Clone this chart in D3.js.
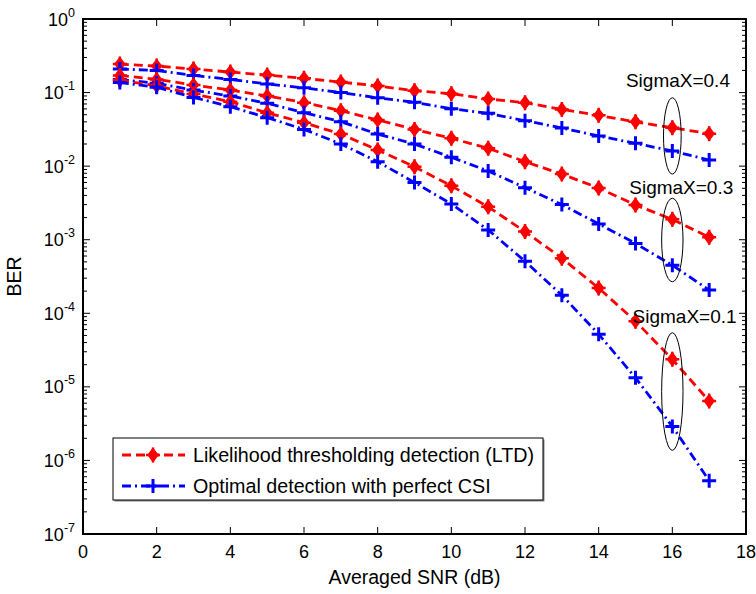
<!DOCTYPE html>
<html>
<head>
<meta charset="utf-8">
<script src="https://cdn.jsdelivr.net/npm/d3@7/dist/d3.min.js"></script>
<style>
  body { margin: 0; background: #fff; }
  text { font-family: "Liberation Sans", Arial, sans-serif; fill: #000; }
</style>
</head>
<body>
<div id="chart"></div>
<script>
const width = 756;
const height = 594;
const margin = {top: 19, right: 10, bottom: 60, left: 83};

// data
const snr = [1, 2, 3, 4, 5, 6, 7, 8, 9, 10, 11, 12, 13, 14, 15, 16, 17];
const ltd04 = [0.244, 0.229, 0.209, 0.19, 0.173, 0.156, 0.139, 0.123, 0.106, 0.0966, 0.0818, 0.073, 0.059, 0.049, 0.040, 0.0333, 0.0276];
const opt04 = [0.209, 0.2, 0.171, 0.151, 0.131, 0.116, 0.1, 0.085, 0.0737, 0.0604, 0.0522, 0.0415, 0.033, 0.0257, 0.0204, 0.0161, 0.0121];
const ltd03 = [0.171, 0.151, 0.127, 0.108, 0.09, 0.073, 0.0567, 0.0424, 0.0316, 0.0239, 0.0175, 0.0115, 0.0078, 0.00505, 0.00296, 0.00189, 0.00108];
const opt03 = [0.15, 0.134, 0.108, 0.0898, 0.0714, 0.0533, 0.0402, 0.0273, 0.02, 0.0132, 0.0086, 0.0051, 0.003, 0.00164, 0.00089, 0.00045, 0.000207];
const ltd01 = [0.148, 0.123, 0.0957, 0.075, 0.053, 0.039, 0.0273, 0.0166, 0.0098, 0.0054, 0.0028, 0.00129, 0.00056, 0.00022, 0.000078, 0.0000237, 0.0000064];
const opt01 = [0.137, 0.118, 0.086, 0.0643, 0.0456, 0.0316, 0.02, 0.0115, 0.006, 0.00306, 0.00136, 0.00051, 0.000176, 0.000052, 0.0000133, 0.0000029, 0.00000053];

const xTicks = [0, 2, 4, 6, 8, 10, 12, 14, 16, 18];
const yExponents = [0, -1, -2, -3, -4, -5, -6, -7];
const legendLabels = ["Likelihood thresholding detection (LTD)", "Optimal detection with perfect CSI"];

// ellipse + text annotations (data space)
const ellipseX = [16, 16, 16];
const ellipseTop = [0.085, 0.00366, 0.0000545];
const ellipseBottom = [0.0078, 0.000268, 0.00000137];
const ellipseHalfW = [0.24, 0.29, 0.29];
const noteText = ["SigmaX=0.4", "SigmaX=0.3", "SigmaX=0.1"];
const noteX = [14.74, 14.83, 14.92];
const noteY = [0.12, 0.00414, 0.0000731];

const innerW = width - margin.left - margin.right;
const innerH = height - margin.top - margin.bottom;

let svg = d3.select("#chart").append("svg")
    .attr("width", width)
    .attr("height", height);

let g = svg.append("g").attr("transform", "translate(" + margin.left + "," + margin.top + ")");

let x = d3.scaleLinear().domain([0, 18]).range([0, innerW]);
let y = d3.scaleLog().domain([1e-7, 1]).range([innerH, 0]);

// ticks (inward, MATLAB style)
let minorVals = [];
for (let e = -7; e < 0; e++) {
    for (let m = 2; m <= 9; m++) minorVals.push(m * Math.pow(10, e));
}
let majorVals = yExponents.map(function(e) { return Math.pow(10, e); });

function yTicks(sel, x0, dir) {
    sel.selectAll(null).data(minorVals).enter().append("line")
        .attr("x1", x0).attr("x2", x0 + dir * 4)
        .attr("y1", function(d) { return y(d); }).attr("y2", function(d) { return y(d); })
        .attr("stroke", "#000").attr("stroke-width", 1);
    sel.selectAll(null).data(majorVals).enter().append("line")
        .attr("x1", x0).attr("x2", x0 + dir * 7)
        .attr("y1", function(d) { return y(d); }).attr("y2", function(d) { return y(d); })
        .attr("stroke", "#000").attr("stroke-width", 1);
}
let tickG = g.append("g");
yTicks(tickG, 0, 1);
yTicks(tickG, innerW, -1);

tickG.selectAll(null).data(xTicks).enter().append("line")
    .attr("x1", function(d) { return x(d); }).attr("x2", function(d) { return x(d); })
    .attr("y1", innerH).attr("y2", innerH - 7)
    .attr("stroke", "#000").attr("stroke-width", 1);
tickG.selectAll(null).data(xTicks).enter().append("line")
    .attr("x1", function(d) { return x(d); }).attr("x2", function(d) { return x(d); })
    .attr("y1", 0).attr("y2", 7)
    .attr("stroke", "#000").attr("stroke-width", 1);

// tick labels
g.selectAll(".xl").data(xTicks).enter().append("text")
    .attr("class", "xl")
    .attr("x", function(d) { return x(d); })
    .attr("y", innerH + 24)
    .attr("text-anchor", "middle")
    .style("font-size", "18px")
    .text(function(d) { return d; });

let yl = g.selectAll(".yl").data(yExponents).enter().append("text")
    .attr("class", "yl")
    .attr("x", -8)
    .attr("y", function(d) { return y(Math.pow(10, d)) + 6.5; })
    .attr("text-anchor", "end")
    .style("font-size", "18px");
yl.append("tspan").text("10");
yl.append("tspan")
    .attr("dy", -9)
    .style("font-size", "12.5px")
    .text(function(d) { return d === 0 ? "0" : "-" + Math.abs(d); });

// axis titles
svg.append("text")
    .attr("x", margin.left + innerW / 2)
    .attr("y", 584)
    .attr("text-anchor", "middle")
    .style("font-size", "19.5px")
    .text("Averaged SNR (dB)");
svg.append("text")
    .attr("transform", "translate(21," + (margin.top + innerH / 2) + ") rotate(-90)")
    .attr("text-anchor", "middle")
    .style("font-size", "19.5px")
    .text("BER");

// series
const RED = "#ff0000";
const BLUE = "#0000ff";
let series = [
    {vals: ltd04, color: RED, dash: "9,5", mark: "diamond"},
    {vals: opt04, color: BLUE, dash: "9,4,2,4", mark: "plus"},
    {vals: ltd03, color: RED, dash: "9,5", mark: "diamond"},
    {vals: opt03, color: BLUE, dash: "9,4,2,4", mark: "plus"},
    {vals: ltd01, color: RED, dash: "9,5", mark: "diamond"},
    {vals: opt01, color: BLUE, dash: "9,4,2,4", mark: "plus"}
];

let line = d3.line()
    .x(function(d) { return x(d[0]); })
    .y(function(d) { return y(d[1]); });

function drawMarker(sel, type, color) {
    if (type === "diamond") {
        sel.append("path")
            .attr("d", "M0,-6L4.5,0L0,6L-4.5,0Z")
            .attr("fill", color).attr("stroke", color).attr("stroke-width", 2);
        sel.append("path")
            .attr("d", "M-7,0H7M0,-7.5V7.5")
            .attr("stroke", color).attr("stroke-width", 2.5);
    } else {
        sel.append("path")
            .attr("d", "M-7,0H7M0,-7V7")
            .attr("stroke", color).attr("stroke-width", 3);
    }
}

let plotG = g.append("g");
for (let s of series) {
    let pts = snr.map(function(k, i) { return [k, s.vals[i]]; });
    plotG.append("path")
        .datum(pts)
        .attr("d", line)
        .attr("fill", "none")
        .attr("stroke", s.color)
        .attr("stroke-width", 2.8)
        .attr("stroke-dasharray", s.dash);
    plotG.selectAll(null).data(pts).enter().append("g")
        .attr("transform", function(d) { return "translate(" + x(d[0]) + "," + y(d[1]) + ")"; })
        .each(function() { drawMarker(d3.select(this), s.mark, s.color); });
}

// annotations
for (let i = 0; i < noteText.length; i++) {
    let yt = y(ellipseTop[i]), yb = y(ellipseBottom[i]);
    g.append("ellipse")
        .attr("cx", x(ellipseX[i]))
        .attr("cy", (yt + yb) / 2)
        .attr("rx", x(ellipseHalfW[i]) - x(0))
        .attr("ry", (yb - yt) / 2)
        .attr("fill", "none")
        .attr("stroke", "#000")
        .attr("stroke-width", 1);
    g.append("text")
        .attr("x", x(noteX[i]))
        .attr("y", y(noteY[i]))
        .style("font-size", "19px")
        .text(noteText[i]);
}

// box
g.append("rect")
    .attr("width", innerW).attr("height", innerH)
    .attr("fill", "none").attr("stroke", "#000").attr("stroke-width", 2);

// legend
let lg = svg.append("g").attr("transform", "translate(113,438)");
lg.append("rect").attr("x", 1.5).attr("y", 1.5).attr("width", 430).attr("height", 62)
    .attr("fill", "#888");
lg.append("rect").attr("width", 430).attr("height", 62)
    .attr("fill", "#fff").attr("stroke", "#000").attr("stroke-width", 1);
let legendSeries = [series[0], series[1]];
legendSeries.forEach(function(s, i) {
    let cy = 17 + i * 31;
    lg.append("line")
        .attr("x1", 9).attr("x2", 72).attr("y1", cy).attr("y2", cy)
        .attr("stroke", s.color).attr("stroke-width", 2.8)
        .attr("stroke-dasharray", s.dash);
    drawMarker(lg.append("g").attr("transform", "translate(40," + cy + ")"), s.mark, s.color);
    lg.append("text")
        .attr("x", 80).attr("y", cy + 7)
        .style("font-size", "19.7px")
        .text(legendLabels[i]);
});
</script>
</body>
</html>
